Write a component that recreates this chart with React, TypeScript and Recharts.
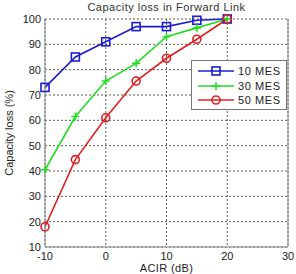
import { CartesianGrid, Line, LineChart, ReferenceLine, XAxis, YAxis } from "recharts"

const acir = [-10, -5, 0, 5, 10, 15, 20]
const mes10 = [73, 85, 91, 97, 97, 99.5, 100]
const mes30 = [40.5, 61.5, 75.5, 82.5, 93, 96.5, 100]
const mes50 = [18, 44.5, 61, 75.5, 84.5, 92, 100]
const xTicks = [-10, 0, 10, 20, 30]
const yTicks = [10, 20, 30, 40, 50, 60, 70, 80, 90, 100]

const BLUE = "#1c1ccc"
const GREEN = "#22dd22"
const RED = "#dd2020"
const FONT = "'Liberation Sans', Arial, sans-serif"

const series = [
  { key: "m10", name: "10 MES", color: BLUE, marker: "square" },
  { key: "m30", name: "30 MES", color: GREEN, marker: "plus" },
  { key: "m50", name: "50 MES", color: RED, marker: "circle" },
]

const data = acir.map((x, i) => ({ x, m10: mes10[i], m30: mes30[i], m50: mes50[i] }))

function Marker({ cx, cy, kind, color }: { cx: number; cy: number; kind: string; color: string }) {
  if (cx == null || cy == null) return null
  if (kind === "square")
    return <rect x={cx - 4} y={cy - 4} width={8} height={8} fill="none" stroke={color} strokeWidth={1.6} />
  if (kind === "circle")
    return <circle cx={cx} cy={cy} r={4} fill="none" stroke={color} strokeWidth={1.6} />
  return (
    <path d={`M${cx - 4},${cy}H${cx + 4}M${cx},${cy - 4}V${cy + 4}`} stroke={color} strokeWidth={1.6} />
  )
}

// matlab-style legend box, sits over the top right of the plot
function LegendBox() {
  return (
    <div
      style={{
        position: "absolute",
        left: 191,
        top: 60,
        width: 96,
        height: 50,
        border: "1px solid #777",
        background: "#fff",
        boxSizing: "border-box",
        paddingTop: 3,
        zIndex: 2,
      }}
    >
      {series.map((s) => (
        <div key={s.key} style={{ display: "flex", alignItems: "center", height: 14.5 }}>
          <svg width={46} height={12} style={{ flex: "none" }}>
            <line x1={6} y1={6} x2={42} y2={6} stroke={s.color} strokeWidth={1.6} />
            <Marker cx={24} cy={6} kind={s.marker} color={s.color} />
          </svg>
          <span style={{ fontFamily: FONT, fontSize: 11, color: "#222", letterSpacing: 0.6 }}>{s.name}</span>
        </div>
      ))}
    </div>
  )
}

export default function App() {
  return (
    <div style={{ position: "relative", width: 296, height: 274, background: "#fff" }}>
      <style>{`body{margin:0}`}</style>
      <div
        style={{
          position: "absolute",
          left: 45,
          width: 243,
          top: 1,
          textAlign: "center",
          fontFamily: FONT,
          fontSize: 11,
          color: "#333",
          lineHeight: "13px",
          letterSpacing: 0.5,
        }}
      >
        Capacity loss in Forward Link
      </div>
      <LineChart width={296} height={274} data={data} margin={{ top: 19, right: 8, left: 0, bottom: 0 }}>
        <CartesianGrid stroke="#333" strokeDasharray="2 2" strokeWidth={0.8} />
        <XAxis
          dataKey="x"
          type="number"
          domain={[-10, 30]}
          ticks={xTicks}
          height={27}
          tickLine={false}
          tickSize={0}
          tickMargin={5}
          axisLine={{ stroke: "#888" }}
          tick={{ fontSize: 11, fill: "#222", fontFamily: FONT }}
          label={{
            value: "ACIR (dB)",
            position: "insideBottom",
            offset: 2,
            fontSize: 11,
            fill: "#222",
            fontFamily: FONT,
            letterSpacing: 0.4,
          }}
        />
        <YAxis
          type="number"
          domain={[10, 100]}
          ticks={yTicks}
          width={45}
          tickLine={false}
          tickSize={0}
          tickMargin={4}
          axisLine={{ stroke: "#888" }}
          tick={{ fontSize: 11, fill: "#222", fontFamily: FONT }}
          label={{
            value: "Capacity loss (%)",
            angle: -90,
            position: "insideLeft",
            offset: 9,
            fontSize: 11,
            fill: "#222",
            fontFamily: FONT,
            style: { textAnchor: "middle" },
          }}
        />
        <ReferenceLine x={30} stroke="#888" />
        {series.map((s) => (
          <Line
            key={s.key}
            dataKey={s.key}
            name={s.name}
            stroke={s.color}
            strokeWidth={1.6}
            isAnimationActive={false}
            dot={(p: any) => <Marker key={`${s.key}-${p.index}`} cx={p.cx} cy={p.cy} kind={s.marker} color={s.color} />}
            activeDot={false}
          />
        ))}
      </LineChart>
      <LegendBox />
    </div>
  )
}
